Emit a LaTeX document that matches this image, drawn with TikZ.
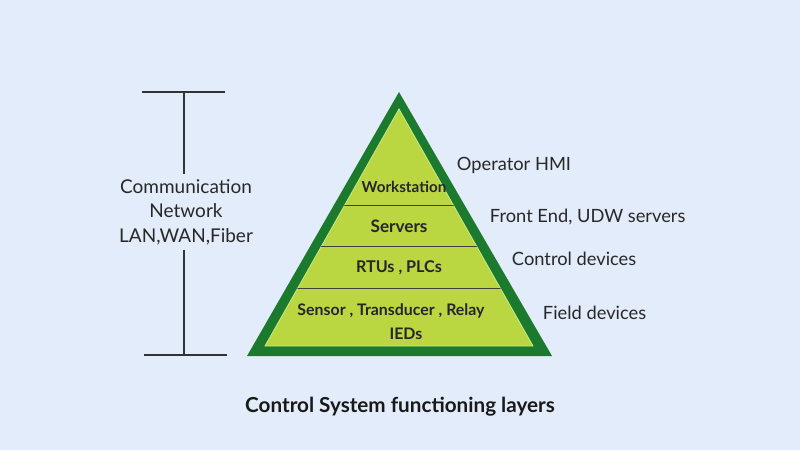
\documentclass[tikz,border=0pt]{standalone}
\usepackage{fontspec}
\setmainfont{Lato}
\usetikzlibrary{positioning}
\definecolor{bgblue}{RGB}{227,236,250}
\definecolor{darkgreen}{RGB}{28,122,46}
\definecolor{limefill}{RGB}{186,214,64}
\definecolor{inktext}{RGB}{40,40,40}

\begin{document}
\begin{tikzpicture}[x=0.025cm, y=-0.025cm,
    layer/.style={font=\bfseries\fontsize{11.5}{13}\selectfont, text=black!85, align=center},
    side/.style={font=\fontsize{13}{15}\selectfont, text=inktext, anchor=west},
    bar/.style={thick, black!80}]
    \fill[bgblue] (0,0) rectangle (800,450);
    \useasboundingbox (0,0) rectangle (800,450);

    % pyramid
    \fill[darkgreen] (399,92) -- (552,356) -- (247,356) -- cycle;
    \fill[limefill, draw=green!15!limefill!60!white, line width=0.6pt] (399,109) -- (533,346) -- (265,346) -- cycle;
    \begin{scope}
        \clip (399,109) -- (533,346) -- (265,346) -- cycle;
        \draw[black!75] (300,205) -- (500,205);
        \draw[black!75] (300,246) -- (500,246);
        \draw[black!75] (250,288) -- (550,288);
    \end{scope}

    \node[layer, font=\bfseries\fontsize{10.8}{12}\selectfont] (work) at (404,187) {Workstation};
    \node[layer, font=\bfseries\fontsize{12.2}{14}\selectfont] (serv) at (399,226) {Servers};
    \node[layer] (rtu) at (399,268) {RTUs , PLCs};
    \node[layer, font=\bfseries\fontsize{11.3}{13}\selectfont] (field) at (391,311) {Sensor , Transducer , Relay};
    \node[layer, font=\bfseries\fontsize{11.3}{13}\selectfont] (ieds) at (406,334) {IEDs};

    % labels on the right
    \node[side] (hmi) at (452,165) {Operator HMI};
    \node[side] (front) at (485,217) {Front End, UDW servers};
    \node[side] (ctrl) at (507,259) {Control devices};
    \node[side] (dev) at (538,313) {Field devices};

    % communication network bracket
    \node[font=\fontsize{13.5}{17.5}\selectfont, text=inktext, align=center] (net) at (186,212) {Communication\\Network\\LAN,WAN,Fiber};
    \coordinate (topl) at (142,92);
    \coordinate (topr) at (225,92);
    \coordinate (topm) at (184,92);
    \coordinate (botl) at (144,355);
    \coordinate (botr) at (227,355);
    \coordinate (botm) at (184,355);
    \draw[bar] (topl) -- (topr);
    \draw[bar] (botl) -- (botr);
    \draw[bar] (topm) -- (net.north -| topm);
    \draw[bar] (net.south -| botm) -- (botm);

    \node[font=\bfseries\fontsize{14.7}{17}\selectfont, text=black!90] (title) at (400,407) {Control System functioning layers};
\end{tikzpicture}
\end{document}
